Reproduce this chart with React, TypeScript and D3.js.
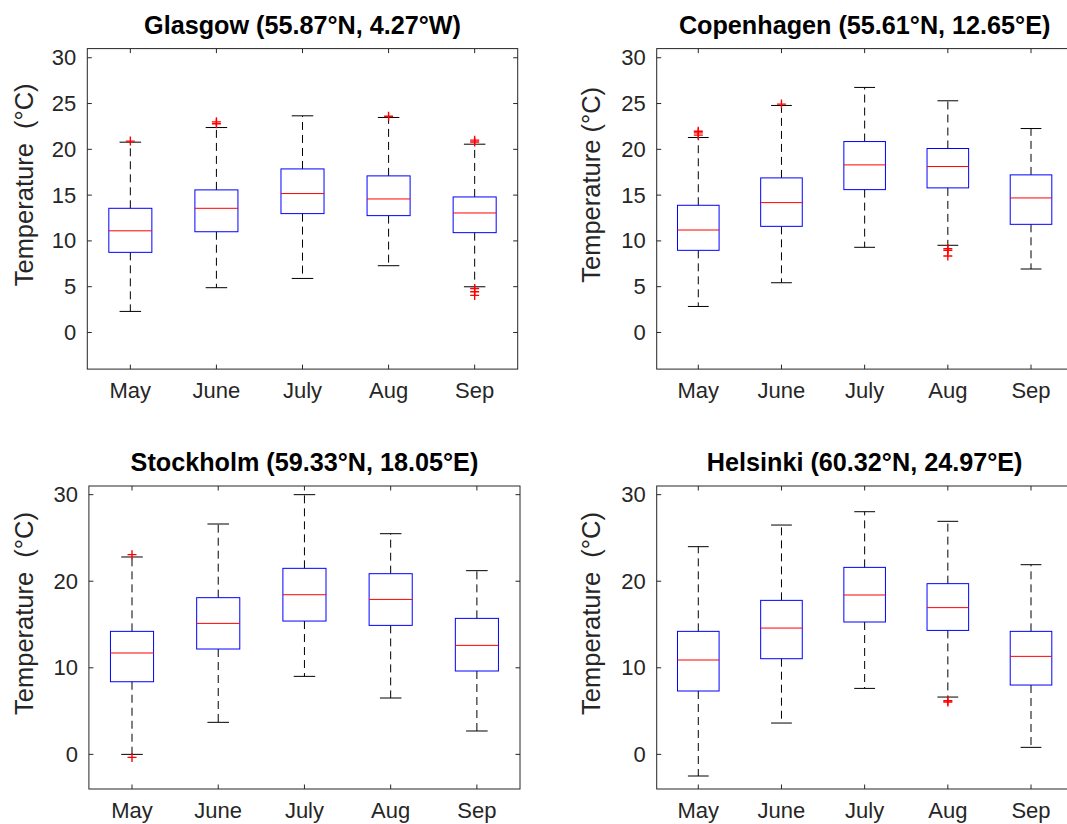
import * as d3 from "d3";

// box stats per month: [lower whisker, Q1, median, Q3, upper whisker]
const months = ["May", "June", "July", "Aug", "Sep"];

const glasgowStats = [
  [2.3, 8.75, 11.1, 13.56, 20.78],
  [4.89, 11.0, 13.56, 15.57, 22.38],
  [5.9, 12.98, 15.17, 17.86, 23.66],
  [7.29, 12.76, 14.58, 17.1, 23.48],
  [4.99, 10.9, 13.05, 14.8, 20.56],
];
const glasgowOutliers = [[20.9], [22.8, 23.0], [], [23.62], [20.8, 21.0, 4.8, 4.45, 4.05]];

const copenhagenStats = [
  [2.84, 8.97, 11.19, 13.89, 21.29],
  [5.43, 11.59, 14.18, 16.88, 24.79],
  [9.3, 15.6, 18.3, 20.85, 26.76],
  [9.52, 15.79, 18.12, 20.09, 25.3],
  [6.93, 11.81, 14.69, 17.21, 22.27],
];
const copenhagenOutliers = [[21.55, 21.8, 21.98], [24.94], [], [9.15, 8.97, 8.35], []];

const stockholmStats = [
  [0.0, 8.39, 11.71, 14.21, 22.8],
  [3.7, 12.17, 15.13, 18.1, 26.61],
  [9.01, 15.4, 18.44, 21.49, 30.0],
  [6.51, 14.9, 17.9, 20.87, 25.49],
  [2.7, 9.63, 12.59, 15.71, 21.22],
];
const stockholmOutliers = [[23.07, -0.35], [], [], [], []];

const helsinkiStats = [
  [-2.5, 7.32, 10.9, 14.21, 23.99],
  [3.62, 11.05, 14.59, 17.79, 26.49],
  [7.62, 15.29, 18.41, 21.6, 28.03],
  [6.62, 14.32, 16.95, 19.72, 26.92],
  [0.81, 8.01, 11.32, 14.21, 21.91],
];
const helsinkiOutliers = [[], [], [], [6.2, 6.05], []];

const ticks5 = [0, 5, 10, 15, 20, 25, 30];
const ticks10 = [0, 10, 20, 30];

const panels = [
  {
    title: "Glasgow (55.87°N, 4.27°W)",
    ylabel: "Temperature  (°C)",
    stats: glasgowStats,
    outliers: glasgowOutliers,
    yTicks: ticks5,
    left: 87.3, right: 517.7, top: 48.6, bottom: 369.1, labelX: 33,
  },
  {
    title: "Copenhagen (55.61°N, 12.65°E)",
    ylabel: "Temperature (°C)",
    stats: copenhagenStats,
    outliers: copenhagenOutliers,
    yTicks: ticks5,
    left: 656.7, right: 1072.6, top: 48.6, bottom: 369.1, labelX: 600,
  },
  {
    title: "Stockholm (59.33°N, 18.05°E)",
    ylabel: "Temperature  (°C)",
    stats: stockholmStats,
    outliers: stockholmOutliers,
    yTicks: ticks10,
    left: 88.9, right: 520, top: 486, bottom: 789, labelX: 33,
  },
  {
    title: "Helsinki (60.32°N, 24.97°E)",
    ylabel: "Temperature  (°C)",
    stats: helsinkiStats,
    outliers: helsinkiOutliers,
    yTicks: ticks10,
    left: 656.7, right: 1072.6, top: 486, bottom: 789, labelX: 600,
  },
];

const FONT = "'Liberation Sans', Arial, Helvetica, sans-serif";
const AXIS = "#262626";

const Panel = ({ p }) => {
  const x = d3.scaleLinear().domain([0.5, 5.5]).range([p.left, p.right]);
  const y = d3.scaleLinear().domain([-4, 31]).range([p.bottom, p.top]);
  const halfBox = x(1.25) - x(1);
  const halfCap = x(1.125) - x(1);
  const tl = 4.5;
  const cy = (p.top + p.bottom) / 2 - 24;

  return (
    <g>
      {/* boxes */}
      {p.stats.map((s, i) => {
        const cx = x(i + 1);
        const [lo, q1, med, q3, hi] = s;
        return (
          <g key={i}>
            <line x1={cx} x2={cx} y1={y(q3)} y2={y(hi)} stroke="#000" strokeDasharray="8,5" />
            <line x1={cx} x2={cx} y1={y(q1)} y2={y(lo)} stroke="#000" strokeDasharray="8,5" />
            <line x1={cx - halfCap} x2={cx + halfCap} y1={y(hi)} y2={y(hi)} stroke="#000" />
            <line x1={cx - halfCap} x2={cx + halfCap} y1={y(lo)} y2={y(lo)} stroke="#000" />
            <rect
              x={cx - halfBox}
              y={y(q3)}
              width={halfBox * 2}
              height={y(q1) - y(q3)}
              fill="none"
              stroke="#0000ff"
            />
            <line x1={cx - halfBox} x2={cx + halfBox} y1={y(med)} y2={y(med)} stroke="#ff0000" />
            {p.outliers[i].map((v, j) => (
              <path
                key={j}
                d={`M${cx - 4.5},${y(v)}H${cx + 4.5}M${cx},${y(v) - 4.5}V${y(v) + 4.5}`}
                stroke="#ff0000"
                strokeWidth={1.4}
              />
            ))}
          </g>
        );
      })}

      {/* axes box */}
      <rect
        x={p.left}
        y={p.top}
        width={p.right - p.left}
        height={p.bottom - p.top}
        fill="none"
        stroke={AXIS}
      />
      {months.map((m, i) => (
        <g key={m}>
          <line x1={x(i + 1)} x2={x(i + 1)} y1={p.bottom} y2={p.bottom - tl} stroke={AXIS} />
          <line x1={x(i + 1)} x2={x(i + 1)} y1={p.top} y2={p.top + tl} stroke={AXIS} />
          <text
            x={x(i + 1)}
            y={p.bottom + 28.5}
            textAnchor="middle"
            fontSize={22}
            fontFamily={FONT}
            fill={AXIS}
          >
            {m}
          </text>
        </g>
      ))}
      {p.yTicks.map((t) => (
        <g key={t}>
          <line x1={p.left} x2={p.left + tl} y1={y(t)} y2={y(t)} stroke={AXIS} />
          <line x1={p.right} x2={p.right - tl} y1={y(t)} y2={y(t)} stroke={AXIS} />
          <text
            x={p.left - 11}
            y={y(t) + 7.5}
            textAnchor="end"
            fontSize={22}
            fontFamily={FONT}
            fill={AXIS}
          >
            {t}
          </text>
        </g>
      ))}

      <text
        x={(p.left + p.right) / 2}
        y={p.top - 15}
        textAnchor="middle"
        fontSize={25.2}
        fontWeight="bold"
        fontFamily={FONT}
        fill="#000"
      >
        {p.title}
      </text>
      <text
        transform={`translate(${p.labelX},${cy}) rotate(-90)`}
        textAnchor="middle"
        fontSize={25.5}
        fontFamily={FONT}
        fill={AXIS}
        style={{ whiteSpace: "pre" }}
      >
        {p.ylabel}
      </text>
    </g>
  );
};

const App = () => {
  return (
    <svg
      width={1067}
      height={824}
      style={{ position: "absolute", left: 0, top: 0, background: "#fff" }}
    >
      <rect width={1067} height={824} fill="#fff" />
      {panels.map((p) => (
        <Panel key={p.title} p={p} />
      ))}
    </svg>
  );
};

export default App;
